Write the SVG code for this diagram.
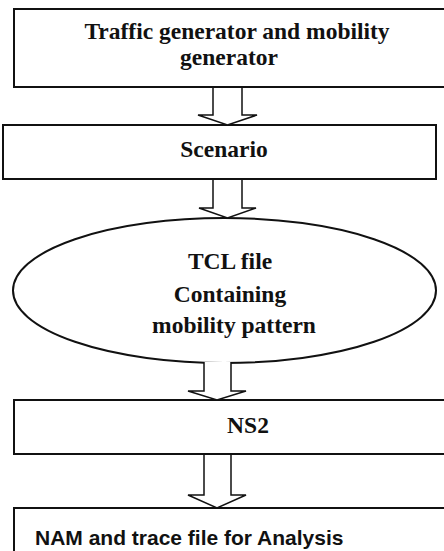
<svg xmlns="http://www.w3.org/2000/svg" width="444" height="551" viewBox="0 0 444 551">
<style>
.box{fill:#fff;stroke:#111;stroke-width:2}
.arr{fill:#fff;stroke:#111;stroke-width:1.5;stroke-linejoin:miter}
.t{font-weight:bold;font-size:23.5px;fill:#111;text-anchor:middle}
.s{font-weight:bold;font-size:21px;fill:#111}
</style>
<rect width="444" height="551" fill="#fff"/>
<g id="traffic">
<rect class="box" x="14" y="9" width="440" height="78"/>
<text class="t" font-family="Liberation Serif, serif" x="237" y="39">Traffic generator and mobility</text>
<text class="t" font-family="Liberation Serif, serif" x="229" y="65">generator</text>
</g>
<g id="scenario">
<rect class="box" x="3" y="125" width="433" height="54"/>
<text class="t" font-family="Liberation Serif, serif" x="224" y="157">Scenario</text>
</g>
<g id="tcl">
<ellipse class="box" cx="224.5" cy="290.5" rx="211.5" ry="72.5"/>
<text class="t" font-family="Liberation Serif, serif" x="230" y="269">TCL file</text>
<text class="t" font-family="Liberation Serif, serif" x="230" y="302">Containing</text>
<text class="t" font-family="Liberation Serif, serif" x="234" y="333">mobility pattern</text>
</g>
<g id="ns2">
<rect class="box" x="14" y="400" width="440" height="54"/>
<text class="t" font-family="Liberation Serif, serif" x="248" y="433">NS2</text>
</g>
<g id="nam">
<rect class="box" x="14" y="508" width="440" height="60"/>
<text class="s" font-family="Liberation Sans, sans-serif" x="35" y="545">NAM and trace file for Analysis</text>
</g>
<g id="connectors">
<path class="arr" d="M213,88 V115 H198 L227.5,125 L257,115 H242 V88"/>
<path class="arr" d="M213,180 V208 H199 L227.5,218 L256,208 H242 V180"/>
<path class="arr" d="M204,362 V391 H188 L217,400 L246,391 H231 V362"/>
<path class="arr" d="M204,455 V495 H188 L217,508 L246,495 H231 V455"/>
</g>
</svg>
